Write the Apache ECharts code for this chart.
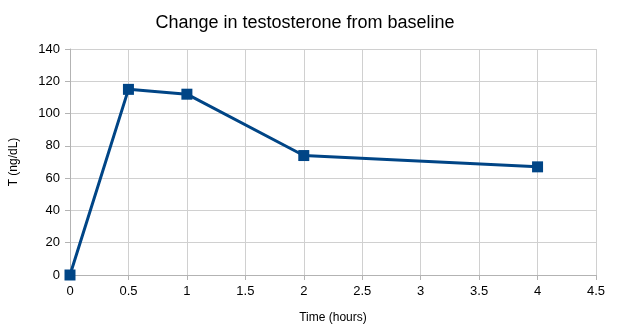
<!DOCTYPE html>
<html><head><meta charset="utf-8">
<script src="https://cdn.jsdelivr.net/npm/echarts@6/dist/echarts.min.js"></script>
<style>html,body{margin:0;padding:0;background:#fff}#c{width:618px;height:334px}</style>
</head><body><div id="c"></div>
<script>
const timeHours = [0, 0.5, 1, 2, 4];
const testosterone = [0, 115, 112, 74, 67];
const chartTitle = 'Change in testosterone from baseline';
const xName = 'Time (hours)';
const yName = 'T (ng/dL)';

const chart = echarts.init(document.getElementById('c'), null, {renderer: 'canvas'});
const font = 'Liberation Sans, Arial, sans-serif';
chart.setOption({
  animation: false,
  title: {text: chartTitle, left: 300, top: 9, textAlign: 'center',
    textStyle: {fontFamily: font, fontSize: 18, fontWeight: 'normal', color: '#000'}},
  grid: {left: 68, right: 22, top: 49, bottom: 59},
  xAxis: {type: 'value', min: 0, max: 4.5, interval: 0.5,
    name: xName, nameLocation: 'middle', nameGap: 37,
    nameTextStyle: {fontFamily: font, fontSize: 12, color: '#000'},
    axisLine: {show: true, lineStyle: {color: '#b3b3b3', width: 1}},
    axisTick: {show: true, length: 5, lineStyle: {color: '#b3b3b3'}},
    axisLabel: {fontFamily: font, fontSize: 13, color: '#000', margin: 10},
    splitLine: {show: true, lineStyle: {color: '#d0d0d0', width: 1}}},
  yAxis: {type: 'value', min: 0, max: 140, interval: 20,
    name: yName, nameLocation: 'middle', nameGap: 50, nameRotate: 90,
    nameTextStyle: {fontFamily: font, fontSize: 12, color: '#000'},
    axisLine: {show: true, lineStyle: {color: '#b3b3b3', width: 1}},
    axisTick: {show: true, length: 5, lineStyle: {color: '#b3b3b3'}},
    axisLabel: {fontFamily: font, fontSize: 13, color: '#000', margin: 10},
    splitLine: {show: true, lineStyle: {color: '#d0d0d0', width: 1}}},
  series: [{type: 'line', data: timeHours.map((t, i) => [t, testosterone[i]]),
    symbol: 'rect', symbolSize: 11, showSymbol: true,
    lineStyle: {color: '#004586', width: 3},
    itemStyle: {color: '#004586'}}]
});
</script></body></html>
